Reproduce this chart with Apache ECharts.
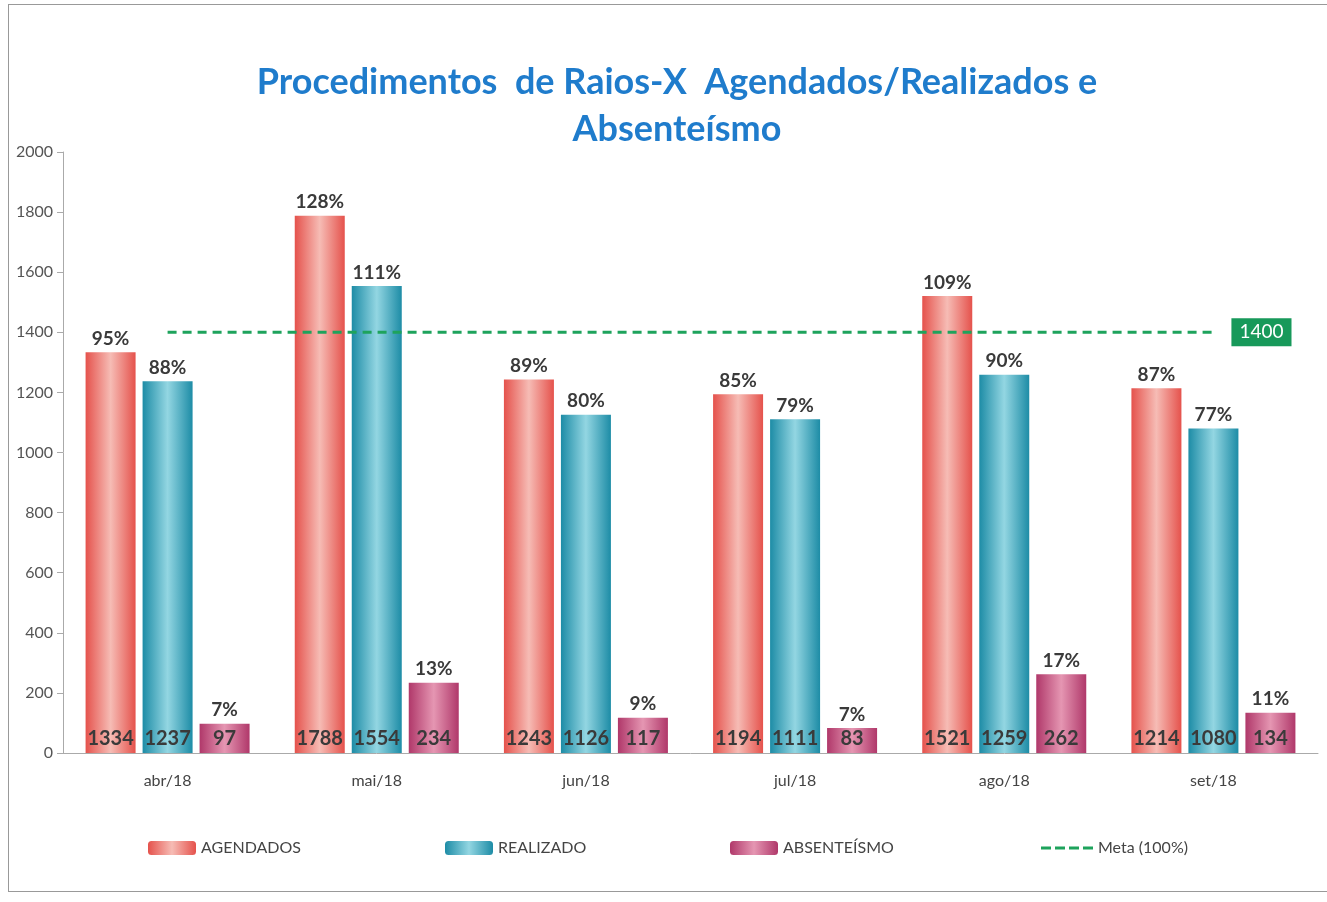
<!DOCTYPE html>
<html>
<head>
<meta charset="utf-8">
<script src="https://cdn.jsdelivr.net/npm/echarts@6/dist/echarts.min.js"></script>
<style>
  html, body { margin: 0; padding: 0; background: #fff; }
  #chart { width: 1327px; height: 902px; position: relative; }
  .frame { position: absolute; left: 8px; top: 4px; width: 1330px; height: 888px; border: 1px solid #999; box-sizing: border-box; pointer-events: none; }
</style>
</head>
<body>
<div id="chart"></div>
<div class="frame"></div>
<script>
const months = ['abr/18', 'mai/18', 'jun/18', 'jul/18', 'ago/18', 'set/18']
const agendados = [1334, 1788, 1243, 1194, 1521, 1214]
const realizado = [1237, 1554, 1126, 1111, 1259, 1080]
const absenteismo = [97, 234, 117, 83, 262, 134]
const pctAgendados = [95, 128, 89, 85, 109, 87]
const pctRealizado = [88, 111, 80, 79, 90, 77]
const pctAbsenteismo = [7, 13, 9, 7, 17, 11]
const meta = [1400, 1400, 1400, 1400, 1400, 1400]

const font = 'Lato, "Open Sans", sans-serif'

const grad = (edge, mid) => new echarts.graphic.LinearGradient(0, 0, 1, 0, [
  { offset: 0, color: edge },
  { offset: 0.5, color: mid },
  { offset: 1, color: edge },
])

const pctMarks = (values, pcts) => ({
  symbol: 'rect',
  symbolSize: 0,
  silent: true,
  label: {
    show: true,
    position: 'top',
    distance: 4,
    formatter: p => p.data.pct + '%',
    color: '#3a3a3a',
    fontWeight: 'bold',
    fontSize: 19,
    fontFamily: font,
  },
  data: values.map((v, i) => ({ coord: [i, v], pct: pcts[i] })),
})

const barSeries = (name, values, pcts, edge, mid) => ({
  name: name,
  type: 'bar',
  data: values,
  barWidth: 50,
  barGap: '14%',
  itemStyle: { color: grad(edge, mid) },
  label: {
    show: true,
    position: 'insideBottom',
    distance: 4,
    color: '#3a3a3a',
    fontWeight: 'bold',
    fontSize: 20,
    fontFamily: font,
  },
  markPoint: pctMarks(values, pcts),
})

const chart = echarts.init(document.getElementById('chart'))

const legendText = { color: '#444', fontSize: 16, fontFamily: font }
// four short dashes for the Meta legend entry
const dashIcon = 'path://M0,0h10v3h-10zM14,0h10v3h-10zM28,0h10v3h-10zM42,0h10v3h-10z'

chart.setOption({
  animation: false,
  title: {
    text: 'Procedimentos  de Raios-X  Agendados/Realizados e\nAbsenteísmo',
    left: 672,
    textAlign: 'center',
    top: 54,
    textStyle: {
      color: '#1f7ccc',
      fontSize: 36,
      fontWeight: 'bold',
      fontFamily: font,
      lineHeight: 47,
    },
  },
  grid: {
    left: 63,
    right: 9,
    top: 152,
    bottom: 149,
  },
  legend: [
    { left: 143, top: 835, itemWidth: 48, itemHeight: 14, textStyle: legendText, data: ['AGENDADOS'] },
    { left: 440, top: 835, itemWidth: 48, itemHeight: 14, textStyle: legendText, data: ['REALIZADO'] },
    { left: 725, top: 835, itemWidth: 48, itemHeight: 14, textStyle: legendText, data: ['ABSENTEÍSMO'] },
    {
      left: 1036,
      top: 835,
      itemWidth: 52,
      itemHeight: 4,
      itemGap: 4,
      textStyle: legendText,
      itemStyle: { color: '#1ea35c' },
      data: [{ name: 'Meta (100%)', icon: dashIcon }],
    },
  ],
  xAxis: {
    type: 'category',
    data: months,
    axisTick: { show: false },
    axisLine: { lineStyle: { color: '#aaa' } },
    axisLabel: { color: '#444', fontSize: 16, fontFamily: font, margin: 20 },
  },
  yAxis: {
    type: 'value',
    min: 0,
    max: 2000,
    interval: 200,
    splitLine: { show: false },
    axisLine: { show: true, lineStyle: { color: '#aaa' } },
    axisTick: { show: true, length: 6, lineStyle: { color: '#aaa' } },
    axisLabel: { color: '#555', fontSize: 16, fontFamily: font, margin: 10, formatter: v => String(v) },
  },
  series: [
    barSeries('AGENDADOS', agendados, pctAgendados, '#e5524c', '#f6bcb5'),
    barSeries('REALIZADO', realizado, pctRealizado, '#1d8ca6', '#93d6e2'),
    barSeries('ABSENTEÍSMO', absenteismo, pctAbsenteismo, '#b0386a', '#e596b2'),
    {
      name: 'Meta (100%)',
      type: 'line',
      data: meta,
      symbol: 'none',
      z: 5,
      itemStyle: { color: '#1ea35c' },
      lineStyle: { color: '#1ea35c', width: 3, type: [9, 6] },
      endLabel: {
        show: true,
        distance: 18,
        formatter: '{c}',
        color: '#fff',
        backgroundColor: '#17995a',
        padding: [5, 8, 4, 8],
        fontSize: 19,
        fontFamily: font,
      },
    },
  ],
})
</script>
</body>
</html>
